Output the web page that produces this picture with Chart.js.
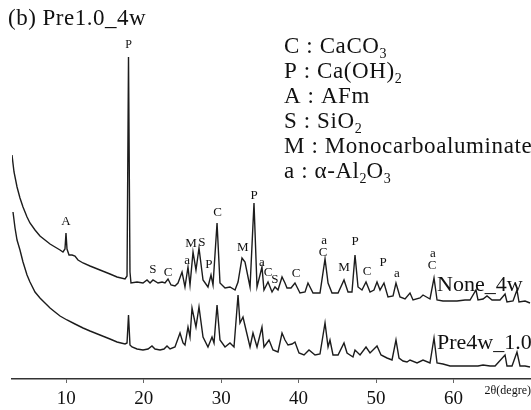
<!DOCTYPE html>
<html>
<head>
<meta charset="utf-8">
<script src="https://cdn.jsdelivr.net/npm/chart.js@4"></script>
<style>
  html, body { margin: 0; padding: 0; background: #fff; }
  #wrap { width: 531px; height: 410px; position: relative; }
</style>
</head>
<body>
<div id="wrap"><canvas id="c" width="531" height="410"></canvas></div>
<script>
// ---- data (2θ in degrees, intensity in arbitrary units, offset traces) ----
const twoTheta_None4w = [3.00,3.26,3.65,4.03,4.42,4.94,5.32,5.97,6.61,7.26,7.91,8.55,9.20,9.58,9.84,9.97,10.10,10.36,10.75,11.13,11.52,12.17,13.07,14.36,15.65,16.56,17.59,17.85,18.04,18.23,18.36,19.14,19.91,20.43,20.82,21.20,21.85,22.37,22.75,23.14,23.53,24.04,24.43,24.95,25.33,25.72,25.98,26.37,26.75,27.14,27.66,28.30,28.69,28.95,29.47,29.85,30.50,31.14,31.79,32.18,32.69,33.08,33.73,34.24,34.63,35.27,35.53,36.05,36.57,36.95,37.34,37.86,38.24,38.50,39.02,39.53,40.18,40.83,41.21,41.86,42.76,43.41,43.80,44.31,45.09,45.86,46.38,46.89,47.28,47.67,48.18,48.70,49.22,49.73,50.12,50.51,51.02,51.54,52.19,52.57,53.09,53.74,54.38,54.77,55.67,56.06,56.96,57.48,57.87,58.64,59.55,60.45,61.48,62.13,62.90,63.16,63.81,64.32,64.97,66.00,66.65,66.90,67.68,68.19,68.45,69.23,69.87];
const intensity_None4w = [224,207,192,181,172,162,156,149,143,139,135,132,129,127,130,146,130,124,124,123,119,116,113,109,105,102,100,103,322,107,96,97,96,99,96,99,96,97,96,100,94,93,96,107,92,112,94,127,109,131,99,92,104,94,156,96,91,92,89,97,121,117,92,176,92,112,89,97,87,92,89,102,96,91,91,96,86,87,96,86,86,120,96,86,86,99,87,87,124,92,89,97,87,89,97,89,96,82,83,96,82,80,86,79,81,84,80,101,79,78,78,78,79,79,89,79,80,83,79,79,85,77,78,89,77,78,76];

const twoTheta_Pre4w = [3.13,3.39,3.65,4.03,4.42,4.94,5.32,5.97,6.61,7.26,7.91,8.55,9.20,10.10,11.13,12.17,13.07,14.36,15.65,16.56,17.59,17.85,18.04,18.23,18.49,19.14,19.91,20.56,21.07,21.46,22.11,22.62,23.01,23.40,24.04,24.69,25.08,25.33,25.72,25.98,26.24,26.75,27.14,27.66,28.30,28.82,29.08,29.47,29.85,30.50,31.14,31.66,32.18,32.43,32.82,33.21,33.73,34.11,34.63,35.27,35.53,36.18,36.69,37.34,37.86,38.24,38.63,39.15,39.53,40.05,40.70,41.34,42.12,42.76,43.41,43.80,44.05,44.44,45.09,45.86,46.25,47.02,47.28,47.93,48.70,49.22,50.12,50.64,51.41,52.06,52.57,52.96,53.48,53.99,54.38,55.29,56.06,56.96,57.48,57.87,58.64,59.55,60.84,62.13,63.16,63.81,64.71,65.36,66.65,66.90,67.55,68.19,68.58,69.23,69.87];
const intensity_Pre4w = [167,151,139,129,117,104,97,87,81,76,71,67,63,59,55,51,48,44,40,37,35,36,64,34,32,30,29,30,33,30,29,30,33,30,32,46,36,34,52,42,71,52,72,42,32,42,36,74,39,32,36,32,84,56,62,49,32,46,32,52,32,39,29,27,46,39,34,35,37,26,24,29,24,25,56,32,39,24,24,36,26,22,29,24,32,26,33,24,21,19,39,21,18,17,19,16,19,16,41,16,15,13,13,13,13,14,13,13,24,13,13,27,13,13,12];

const xTickValues = [10, 20, 30, 40, 50, 60];
const seriesNames = ['None_4w', 'Pre4w_1.0'];
const titleText = '(b) Pre1.0_4w';
const axisUnitText = '2\u03B8(degre)';

// peak labels: text, 2θ, intensity position
const peakLabelText  = ['P','A','S','C','a','M','S','P','C','M','P','a','C','S','C','a','C','M','P','C','P','a','a','C'];
const peakLabelTheta = [18.04,9.97,21.2,23.14,25.6,26.1,27.5,28.4,29.55,32.8,34.24,35.27,36.05,36.95,39.66,43.28,43.15,45.86,47.28,48.83,50.9,52.7,57.35,57.22];
const peakLabelInt   = [334,157,109,106,118,135,136,114,166,131,183,116,106,99,105,138,126,111,137,107,116,105,125,113];

// phase key: parts [text, isSubscript]
const phaseKey = [
  [['C : CaCO',0],['3',1]],
  [['P : Ca(OH)',0],['2',1]],
  [['A : AFm',0]],
  [['S : SiO',0],['2',1]],
  [['M : Monocarboaluminate',0]],
  [['a : \u03B1-Al',0],['2',1],['O',0],['3',1]]
];

const SERIF = "'Liberation Serif', 'Times New Roman', serif";

const overlay = {
  id: 'overlay',
  afterDraw(chart) {
    const ctx = chart.ctx;
    const xs = chart.scales.x, ys = chart.scales.y;
    ctx.save();
    ctx.fillStyle = '#111';
    // title
    ctx.font = '23px ' + SERIF;
    ctx.letterSpacing = '0.5px';
    ctx.textAlign = 'left';
    ctx.textBaseline = 'alphabetic';
    ctx.fillText(titleText, 8, 25);
    // phase key
    let by = 53;
    phaseKey.forEach(line => {
      let x = 284;
      line.forEach(([t, sub]) => {
        if (sub) {
          ctx.font = '14px ' + SERIF;
          ctx.letterSpacing = '0px';
          ctx.fillText(t, x, by + 5);
        } else {
          ctx.font = '23px ' + SERIF;
          ctx.letterSpacing = '0.6px';
          ctx.fillText(t, x, by);
        }
        x += ctx.measureText(t).width;
      });
      by += 25;
    });
    ctx.letterSpacing = '0px';
    // peak labels
    ctx.textAlign = 'center';
    ctx.textBaseline = 'middle';
    peakLabelText.forEach((t, i) => {
      ctx.font = (i === 0 ? '12px ' : '13px ') + SERIF;
      ctx.fillText(t, xs.getPixelForValue(peakLabelTheta[i]), ys.getPixelForValue(peakLabelInt[i]));
    });
    // series names
    ctx.textAlign = 'left';
    ctx.textBaseline = 'alphabetic';
    ctx.font = '22px ' + SERIF;
    ctx.fillText(seriesNames[0], 437, 291);
    ctx.fillText(seriesNames[1], 437, 349);
    // unit text
    ctx.font = '12px ' + SERIF;
    ctx.textAlign = 'right';
    ctx.fillText(axisUnitText, 531, 394);
    ctx.restore();
  }
};

function toPoints(xs, ys) { return xs.map((x, i) => ({ x: x, y: ys[i] })); }

new Chart(document.getElementById('c'), {
  type: 'line',
  data: {
    datasets: [
      { label: seriesNames[0], data: toPoints(twoTheta_None4w, intensity_None4w),
        borderColor: '#1c1c1c', borderWidth: 1.4, pointRadius: 0, tension: 0, fill: false },
      { label: seriesNames[1], data: toPoints(twoTheta_Pre4w, intensity_Pre4w),
        borderColor: '#1c1c1c', borderWidth: 1.4, pointRadius: 0, tension: 0, fill: false }
    ]
  },
  options: {
    responsive: false,
    animation: false,
    layout: { padding: { left: 12, right: 0, top: 0, bottom: 0 } },
    plugins: { legend: { display: false }, tooltip: { enabled: false } },
    scales: {
      x: {
        type: 'linear', min: 3, max: 70,
        afterBuildTicks: (s) => { s.ticks = xTickValues.map(v => ({ value: v })); },
        afterFit: (s) => { s.height = 31; },
        grid: { display: true, drawOnChartArea: false, drawTicks: true, tickLength: 4, color: '#666' },
        border: { display: true, color: '#333', width: 1.5 },
        ticks: { color: '#111', font: { family: SERIF, size: 19 }, padding: 5, maxRotation: 0 }
      },
      y: { display: false, min: 0, max: 379 }
    }
  },
  plugins: [overlay]
});
</script>
</body>
</html>
